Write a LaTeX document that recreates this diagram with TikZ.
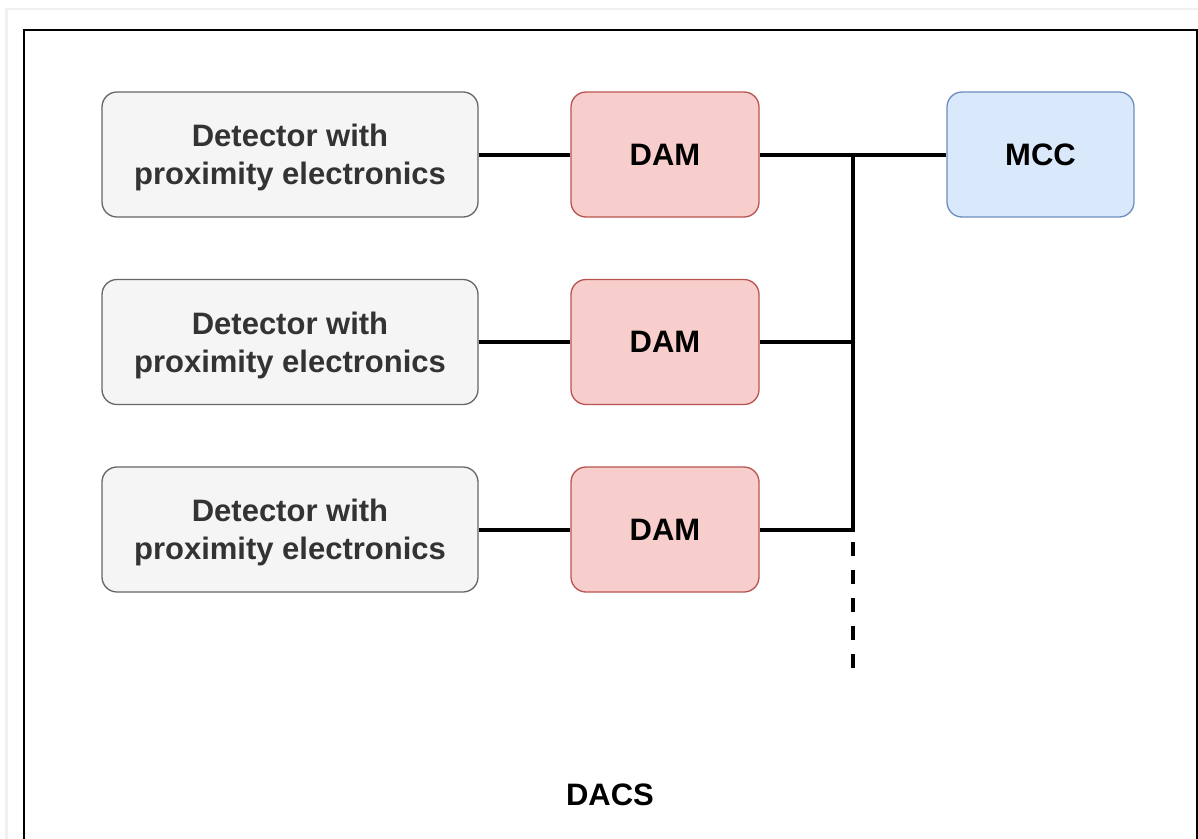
\documentclass[tikz,border=0pt]{standalone}
\usepackage{fontspec}
\setmainfont{Liberation Sans}
\newcommand{\topstrut}{\rule{0pt}{28.5pt}}
\begin{document}
\begin{tikzpicture}[x=1pt,y=-1pt,
  box/.style={rounded corners=15pt, line width=1.3pt, minimum height=125pt, align=center,
    font=\fontsize{31}{38}\selectfont\bfseries, inner sep=0pt},
  detbox/.style={box, draw=black!60, fill=black!4, text=black!80, minimum width=376pt},
  dambox/.style={box, draw={rgb,255:red,184;green,84;blue,80}, fill={rgb,255:red,248;green,206;blue,204}, minimum width=188pt},
  mccbox/.style={box, draw={rgb,255:red,108;green,142;blue,191}, fill={rgb,255:red,218;green,232;blue,252}, minimum width=187pt},
  wire/.style={line width=4pt, black},
  dashwire/.style={line width=4pt, black, dash pattern=on 14pt off 14pt}
]
\useasboundingbox (0,0) rectangle (1198,838);
\fill[white] (0,0) rectangle (1198,838);
% faint outer frame
\draw[line width=2.5pt, black!6] (6.5,845) -- (6.5,9) -- (1205,9);
% black frame (bottom edge outside)
\draw[line width=2pt, black] (23.5,845) -- (23.5,29.5) -- (1196.5,29.5) -- (1196.5,845);

\node[detbox] (det1) at (290,154.5) {\topstrut Detector with\\proximity electronics};
\node[detbox] (det2) at (290,342) {\topstrut Detector with\\proximity electronics};
\node[detbox] (det3) at (290,529.5) {\topstrut Detector with\\proximity electronics};
\node[dambox] (dam1) at (665,154.5) {DAM};
\node[dambox] (dam2) at (665,342) {DAM};
\node[dambox] (dam3) at (665,529.5) {DAM};
\node[mccbox] (mcc) at (1040.5,154.5) {MCC};

\coordinate (b1) at (853,154.5);
\coordinate (b2) at (853,342);
\coordinate (b3) at (853,529.5);
\coordinate (d0) at (853,542);
\coordinate (d1) at (853,670);

\draw[wire] (det1) -- (dam1);
\draw[wire] (det2) -- (dam2);
\draw[wire] (det3) -- (dam3);
\draw[wire] (dam1) -- (mcc);
\draw[wire] (dam2.east) -- (b2);
\draw[wire, line join=miter] (dam3.east) -- (b3) -- (b1);
\draw[dashwire] (d0) -- (d1);

\node[font=\fontsize{31}{38}\selectfont\bfseries] (dacs) at (610,795) {DACS};
\end{tikzpicture}
\end{document}
